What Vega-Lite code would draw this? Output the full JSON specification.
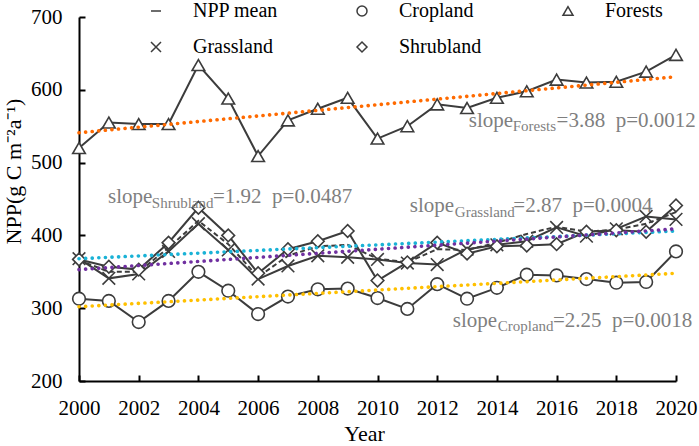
{
  "$schema": "https://vega.github.io/schema/vega-lite/v6.json",
  "width": 597,
  "height": 364,
  "autosize": {"type": "none"},
  "padding": {"left": 79, "top": 17, "right": 23, "bottom": 65},
  "background": "white",
  "config": {"view": {"stroke": null}},
  "datasets": {
    "npp": [
      {"year": 2000, "series": "NPP mean", "value": 366}, {"year": 2001, "series": "NPP mean", "value": 350}, {"year": 2002, "series": "NPP mean", "value": 350},
      {"year": 2003, "series": "NPP mean", "value": 383}, {"year": 2004, "series": "NPP mean", "value": 420}, {"year": 2005, "series": "NPP mean", "value": 388},
      {"year": 2006, "series": "NPP mean", "value": 343}, {"year": 2007, "series": "NPP mean", "value": 372}, {"year": 2008, "series": "NPP mean", "value": 385},
      {"year": 2009, "series": "NPP mean", "value": 387}, {"year": 2010, "series": "NPP mean", "value": 368}, {"year": 2011, "series": "NPP mean", "value": 363},
      {"year": 2012, "series": "NPP mean", "value": 381}, {"year": 2013, "series": "NPP mean", "value": 380}, {"year": 2014, "series": "NPP mean", "value": 390},
      {"year": 2015, "series": "NPP mean", "value": 402}, {"year": 2016, "series": "NPP mean", "value": 412}, {"year": 2017, "series": "NPP mean", "value": 405},
      {"year": 2018, "series": "NPP mean", "value": 408}, {"year": 2019, "series": "NPP mean", "value": 416}, {"year": 2020, "series": "NPP mean", "value": 432},

      {"year": 2000, "series": "Cropland", "value": 313}, {"year": 2001, "series": "Cropland", "value": 310}, {"year": 2002, "series": "Cropland", "value": 281},
      {"year": 2003, "series": "Cropland", "value": 310}, {"year": 2004, "series": "Cropland", "value": 350}, {"year": 2005, "series": "Cropland", "value": 324},
      {"year": 2006, "series": "Cropland", "value": 292}, {"year": 2007, "series": "Cropland", "value": 316}, {"year": 2008, "series": "Cropland", "value": 326},
      {"year": 2009, "series": "Cropland", "value": 327}, {"year": 2010, "series": "Cropland", "value": 314}, {"year": 2011, "series": "Cropland", "value": 299},
      {"year": 2012, "series": "Cropland", "value": 333}, {"year": 2013, "series": "Cropland", "value": 313}, {"year": 2014, "series": "Cropland", "value": 328},
      {"year": 2015, "series": "Cropland", "value": 346}, {"year": 2016, "series": "Cropland", "value": 345}, {"year": 2017, "series": "Cropland", "value": 340},
      {"year": 2018, "series": "Cropland", "value": 335}, {"year": 2019, "series": "Cropland", "value": 336}, {"year": 2020, "series": "Cropland", "value": 378},

      {"year": 2000, "series": "Forests", "value": 520}, {"year": 2001, "series": "Forests", "value": 555}, {"year": 2002, "series": "Forests", "value": 553},
      {"year": 2003, "series": "Forests", "value": 553}, {"year": 2004, "series": "Forests", "value": 634}, {"year": 2005, "series": "Forests", "value": 588},
      {"year": 2006, "series": "Forests", "value": 509}, {"year": 2007, "series": "Forests", "value": 558}, {"year": 2008, "series": "Forests", "value": 574},
      {"year": 2009, "series": "Forests", "value": 589}, {"year": 2010, "series": "Forests", "value": 533}, {"year": 2011, "series": "Forests", "value": 550},
      {"year": 2012, "series": "Forests", "value": 580}, {"year": 2013, "series": "Forests", "value": 575}, {"year": 2014, "series": "Forests", "value": 589},
      {"year": 2015, "series": "Forests", "value": 598}, {"year": 2016, "series": "Forests", "value": 614}, {"year": 2017, "series": "Forests", "value": 610},
      {"year": 2018, "series": "Forests", "value": 611}, {"year": 2019, "series": "Forests", "value": 625}, {"year": 2020, "series": "Forests", "value": 648},

      {"year": 2000, "series": "Grassland", "value": 368}, {"year": 2001, "series": "Grassland", "value": 341}, {"year": 2002, "series": "Grassland", "value": 347},
      {"year": 2003, "series": "Grassland", "value": 378}, {"year": 2004, "series": "Grassland", "value": 416}, {"year": 2005, "series": "Grassland", "value": 380},
      {"year": 2006, "series": "Grassland", "value": 340}, {"year": 2007, "series": "Grassland", "value": 358}, {"year": 2008, "series": "Grassland", "value": 372},
      {"year": 2009, "series": "Grassland", "value": 370}, {"year": 2010, "series": "Grassland", "value": 367}, {"year": 2011, "series": "Grassland", "value": 362},
      {"year": 2012, "series": "Grassland", "value": 360}, {"year": 2013, "series": "Grassland", "value": 381}, {"year": 2014, "series": "Grassland", "value": 387},
      {"year": 2015, "series": "Grassland", "value": 392}, {"year": 2016, "series": "Grassland", "value": 411}, {"year": 2017, "series": "Grassland", "value": 399},
      {"year": 2018, "series": "Grassland", "value": 409}, {"year": 2019, "series": "Grassland", "value": 426}, {"year": 2020, "series": "Grassland", "value": 422},

      {"year": 2000, "series": "Shrubland", "value": 367}, {"year": 2001, "series": "Shrubland", "value": 357}, {"year": 2002, "series": "Shrubland", "value": 353},
      {"year": 2003, "series": "Shrubland", "value": 390}, {"year": 2004, "series": "Shrubland", "value": 438}, {"year": 2005, "series": "Shrubland", "value": 400},
      {"year": 2006, "series": "Shrubland", "value": 348}, {"year": 2007, "series": "Shrubland", "value": 381}, {"year": 2008, "series": "Shrubland", "value": 392},
      {"year": 2009, "series": "Shrubland", "value": 406}, {"year": 2010, "series": "Shrubland", "value": 338}, {"year": 2011, "series": "Shrubland", "value": 363},
      {"year": 2012, "series": "Shrubland", "value": 390}, {"year": 2013, "series": "Shrubland", "value": 375}, {"year": 2014, "series": "Shrubland", "value": 385},
      {"year": 2015, "series": "Shrubland", "value": 386}, {"year": 2016, "series": "Shrubland", "value": 388}, {"year": 2017, "series": "Shrubland", "value": 405},
      {"year": 2018, "series": "Shrubland", "value": 407}, {"year": 2019, "series": "Shrubland", "value": 405}, {"year": 2020, "series": "Shrubland", "value": 441}
    ],
    "trends": [
      {"trend": "Forests", "year": 2000, "value": 541}, {"trend": "Forests", "year": 2020, "value": 618},
      {"trend": "Cropland", "year": 2000, "value": 302}, {"trend": "Cropland", "year": 2020, "value": 348},
      {"trend": "Shrubland", "year": 2000, "value": 368}, {"trend": "Shrubland", "year": 2020, "value": 406},
      {"trend": "Grassland", "year": 2000, "value": 353}, {"trend": "Grassland", "year": 2020, "value": 409}
    ],
    "notes": [
      {"part": "main", "text": "slope", "year": 2013.06, "value": 548.5},
      {"part": "sub", "text": "Forests", "year": 2014.53, "value": 543},
      {"part": "main", "text": "=3.88\u00a0 p=0.0012", "year": 2016.0, "value": 548.5},
      {"part": "main", "text": "slope", "year": 2000.97, "value": 445},
      {"part": "sub", "text": "Shrubland", "year": 2002.44, "value": 438.3},
      {"part": "main", "text": "=1.92\u00a0 p=0.0487", "year": 2004.49, "value": 445},
      {"part": "main", "text": "slope", "year": 2011.08, "value": 431.5},
      {"part": "sub", "text": "Grassland", "year": 2012.59, "value": 425.3},
      {"part": "main", "text": "=2.87\u00a0 p=0.0004", "year": 2014.55, "value": 431.5},
      {"part": "main", "text": "slope", "year": 2012.52, "value": 274},
      {"part": "sub", "text": "Cropland", "year": 2014.03, "value": 269},
      {"part": "main", "text": "=2.25\u00a0 p=0.0018", "year": 2015.88, "value": 274}
    ]
  },
  "encoding": {
    "x": {
      "field": "year", "type": "quantitative",
      "scale": {"domain": [2000, 2020], "nice": false, "zero": false},
      "axis": {
        "values": [2000, 2002, 2004, 2006, 2008, 2010, 2012, 2014, 2016, 2018, 2020],
        "format": "d", "grid": false, "labelAngle": 0, "labelFlush": false, "labelOverlap": false,
        "domainColor": "black", "domainWidth": 2, "tickColor": "black", "tickWidth": 2, "tickSize": -6,
        "labelFont": "Liberation Serif", "labelFontSize": 21, "labelColor": "black",
        "labelBaseline": "alphabetic", "labelPadding": 39,
        "title": "Year", "titleFont": "Liberation Serif", "titleFontSize": 22, "titleFontWeight": "normal",
        "titleColor": "black", "titleX": 285, "titleY": 59, "titleBaseline": "alphabetic", "titleAlign": "center"
      }
    },
    "y": {
      "field": "value", "type": "quantitative",
      "scale": {"domain": [200, 700], "nice": false, "zero": false},
      "axis": {
        "values": [200, 300, 400, 500, 600, 700],
        "grid": false, "labelFlush": false, "labelOverlap": false,
        "domainColor": "black", "domainWidth": 2, "tickColor": "black", "tickWidth": 2, "tickSize": -6,
        "labelFont": "Liberation Serif", "labelFontSize": 21, "labelColor": "black", "labelPadding": 23,
        "title": "NPP(g C m⁻²a⁻¹)", "titleFont": "Liberation Serif", "titleFontSize": 22, "titleFontWeight": "normal",
        "titleColor": "black", "titleX": -54, "titleY": 154, "titleBaseline": "bottom", "titleAlign": "center", "titleAngle": -90
      }
    }
  },
  "layer": [
    {
      "data": {"name": "npp"},
      "transform": [{"filter": "datum.series !== 'NPP mean'"}],
      "mark": {"type": "line", "color": "#3c3c3c", "strokeWidth": 2},
      "encoding": {"detail": {"field": "series", "type": "nominal"}}
    },
    {
      "data": {"name": "npp"},
      "transform": [{"filter": "datum.series === 'NPP mean'"}],
      "mark": {"type": "line", "color": "#3c3c3c", "strokeWidth": 2, "strokeDash": [5, 3]},
      "encoding": {}
    },
    {
      "data": {"name": "npp"},
      "transform": [{"filter": "datum.series !== 'NPP mean'"}],
      "mark": {"type": "point", "filled": true, "fill": "white", "stroke": "#3c3c3c", "strokeWidth": 1.6, "opacity": 1, "size": 160},
      "encoding": {
        "shape": {
          "field": "series", "type": "nominal",
          "scale": {
            "domain": ["NPP mean", "Cropland", "Forests", "Grassland", "Shrubland"],
            "range": ["stroke", "circle", "triangle-up", "M-1,-1L1,1M-1,1L1,-1", "diamond"]
          },
          "legend": {
            "orient": "none", "legendX": 67, "legendY": -16, "direction": "horizontal",
            "columns": 3, "gridAlign": "all", "columnPadding": 74, "rowPadding": 16, "padding": 0,
            "title": null, "symbolSize": 100, "labelOffset": 27,
            "labelFont": "Liberation Serif", "labelFontSize": 20, "labelColor": "black", "labelLimit": 200
          }
        }
      }
    },
    {
      "data": {"name": "trends"},
      "mark": {"type": "line", "strokeWidth": 3.6, "strokeDash": [0.1, 6.5], "strokeCap": "round"},
      "encoding": {
        "detail": {"field": "trend", "type": "nominal"},
        "color": {
          "field": "trend", "type": "nominal",
          "scale": {"domain": ["Forests", "Cropland", "Shrubland", "Grassland"], "range": ["#FF6A00", "#FFC000", "#1AB2D6", "#7030A0"]},
          "legend": null
        }
      }
    },
    {
      "data": {"name": "notes"},
      "transform": [{"filter": "datum.part === 'main'"}],
      "mark": {"type": "text", "font": "Liberation Serif", "fontSize": 21, "color": "#7f7f7f", "align": "left", "baseline": "alphabetic"},
      "encoding": {"text": {"field": "text", "type": "nominal"}}
    },
    {
      "data": {"name": "notes"},
      "transform": [{"filter": "datum.part === 'sub'"}],
      "mark": {"type": "text", "font": "Liberation Serif", "fontSize": 15, "color": "#7f7f7f", "align": "left", "baseline": "alphabetic"},
      "encoding": {"text": {"field": "text", "type": "nominal"}}
    }
  ]
}
